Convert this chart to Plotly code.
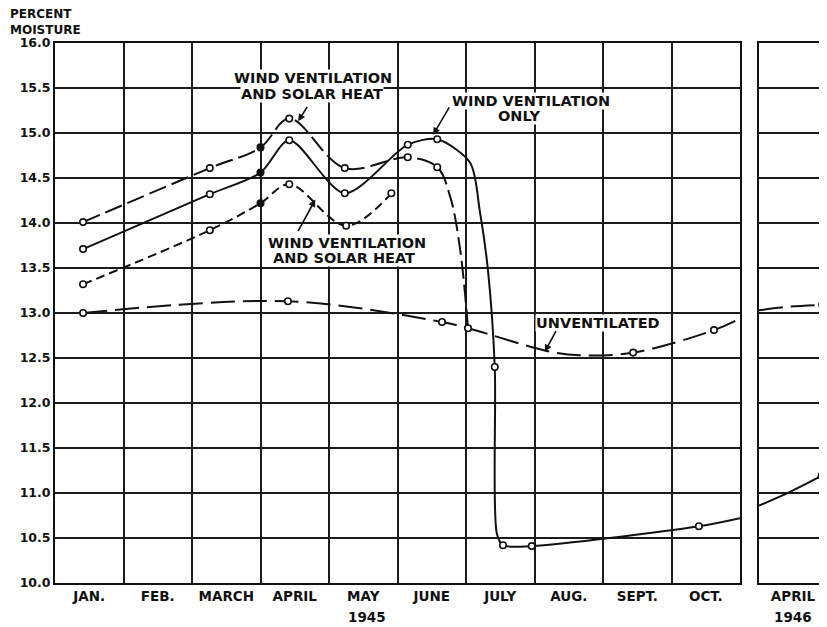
import plotly.graph_objects as go

# ---------------- data (month units: 0 = start of Jan 1945) ----------------
months_1945 = ["JAN.", "FEB.", "MARCH", "APRIL", "MAY", "JUNE", "JULY", "AUG.", "SEPT.", "OCT."]
month_pos = [0.5, 1.5, 2.5, 3.5, 4.5, 5.5, 6.5, 7.5, 8.5, 9.5]
month_bounds = [1, 2, 3, 4, 5, 6, 7, 8, 9]
months_1946 = ["APRIL"]
y_ticks = [10.0, 10.5, 11.0, 11.5, 12.0, 12.5, 13.0, 13.5, 14.0, 14.5, 15.0, 15.5, 16.0]

# Wind ventilation and solar heat (upper, long-dash)
a_pts_x = [0.41, 2.26, 3.0, 3.42, 4.23, 5.15, 5.58, 6.03]
a_pts_y = [14.01, 14.61, 14.84, 15.16, 14.61, 14.73, 14.62, 12.83]
a_path_x = [0.41, 2.26, 3.0, 3.42, 4.23, 5.15, 5.58, 5.77, 5.91, 6.03]
a_path_y = [14.01, 14.61, 14.84, 15.16, 14.61, 14.73, 14.62, 14.29, 13.73, 12.83]

# Wind ventilation only (solid)
b_pts_x = [0.41, 2.26, 3.0, 3.42, 4.23, 5.15, 5.58, 6.42, 6.54, 6.96, 9.40]
b_pts_y = [13.71, 14.32, 14.56, 14.92, 14.33, 14.87, 14.93, 12.40, 10.42, 10.41, 10.63]
b_path_x = [0.41, 2.26, 3.0, 3.42, 4.23, 5.15, 5.58, 6.06, 6.20, 6.32, 6.42, 6.45, 6.54, 6.96, 9.40, 10.0]
b_path_y = [13.71, 14.32, 14.56, 14.92, 14.33, 14.87, 14.93, 14.67, 14.14, 13.48, 12.40, 10.55, 10.42, 10.41, 10.63, 10.72]

# Wind ventilation and solar heat (lower, short-dash)
c_pts_x = [0.41, 2.26, 3.0, 3.42, 4.25, 4.91]
c_pts_y = [13.32, 13.92, 14.22, 14.43, 13.97, 14.33]

# Unventilated (long dash)
d_pts_x = [0.41, 3.40, 5.65, 8.44, 9.62]
d_pts_y = [13.00, 13.13, 12.90, 12.56, 12.81]
d_path_x = [0.41, 3.40, 5.65, 6.03, 7.23, 7.66, 8.44, 9.62, 10.0]
d_path_y = [13.00, 13.13, 12.90, 12.83, 12.57, 12.53, 12.56, 12.81, 12.94]

# 1946 panel (April)
b46_x = [0.0, 0.45, 0.92]
b46_y = [10.86, 11.01, 11.19]
d46_x = [0.0, 0.45, 0.93]
d46_y = [13.03, 13.07, 13.09]

# ---------------- figure ----------------
FONT = "DejaVu Sans"
BLACK = "#111111"
GRID = "#1c1c1c"

fig = go.Figure()

def curve(x, y, dash, xa="x", ya="y", smooth=1.0):
    fig.add_trace(go.Scatter(x=x, y=y, mode="lines", xaxis=xa, yaxis=ya,
                             line=dict(color=BLACK, width=2, dash=dash, shape="spline", smoothing=smooth),
                             hoverinfo="skip", showlegend=False))

def marks(x, y, xa="x", ya="y"):
    fill = [BLACK if abs(v - 3.0) < 1e-9 and xa == "x" else "white" for v in x]
    fig.add_trace(go.Scatter(x=x, y=y, mode="markers", xaxis=xa, yaxis=ya,
                             marker=dict(size=6.5, color=fill, line=dict(color=BLACK, width=1.6)),
                             hoverinfo="skip", showlegend=False))

curve(d_path_x, d_path_y, "24px,8px")
curve(c_pts_x, c_pts_y, "9px,5px")
curve(a_path_x, a_path_y, "18px,6px")
curve(b_path_x, b_path_y, "solid", smooth=0.8)
curve(d46_x, d46_y, "24px,8px", "x2", "y2")
curve(b46_x, b46_y, "solid", "x2", "y2")

marks(d_pts_x, d_pts_y)
marks(c_pts_x, c_pts_y)
marks(a_pts_x, a_pts_y)
marks(b_pts_x, b_pts_y)
marks([d46_x[-1]], [d46_y[-1]], "x2", "y2")
marks([b46_x[-1]], [b46_y[-1]], "x2", "y2")

# page body has an 8px margin: shift everything by -8px
OFF = 8
W, H = 827 - OFF, 627 - OFF
L, R, T = 55 - OFF, 0, 43 - OFF
B = H - (583 - OFF)
pw = W - L - R
ph = H - T - B
d1 = (740 - 55) / pw
d2 = (759 - 55) / pw

tickfont = dict(family=FONT, size=13.5, color=BLACK, weight="bold")

fig.update_layout(
    width=W, height=H,
    margin=dict(l=L, r=R, t=T, b=B),
    paper_bgcolor="white", plot_bgcolor="white",
    font=dict(family=FONT, color=BLACK),
    xaxis=dict(domain=[0, d1], range=[0, 10], tickmode="array", tickvals=month_pos, ticktext=months_1945,
               showgrid=False, zeroline=False, ticks="", tickfont=tickfont,
               showline=True, mirror=True, linecolor=BLACK, linewidth=2,
               minor=dict(tickvals=month_bounds, showgrid=True, gridcolor=GRID, gridwidth=1.6, ticks="")),
    yaxis=dict(range=[10, 16], tickmode="array", tickvals=y_ticks, tickformat=".1f",
               showgrid=True, gridcolor=GRID, gridwidth=1.6, zeroline=False, ticks="",
               tickfont=dict(family=FONT, size=12.5, color=BLACK, weight="bold"),
               showline=True, mirror=True, linecolor=BLACK, linewidth=2),
    xaxis2=dict(domain=[d2, 1], range=[0, 1], tickmode="array", tickvals=[0.5], ticktext=months_1946,
                showgrid=False, zeroline=False, ticks="", tickfont=tickfont, anchor="y2",
                showline=True, mirror=True, linecolor=BLACK, linewidth=2),
    yaxis2=dict(range=[10, 16], anchor="x2", tickmode="array", tickvals=y_ticks, showticklabels=False,
                showgrid=True, gridcolor=GRID, gridwidth=1.6, zeroline=False, ticks="",
                showline=True, mirror=False, linecolor=BLACK, linewidth=2),
)

lab_font = dict(family=FONT, size=14.5, color=BLACK, weight="bold")

def label(text, x, y):
    fig.add_annotation(x=x, y=y, xref="x", yref="y", text=text, showarrow=False,
                       font=lab_font, bgcolor="white", borderpad=0, xanchor="center", yanchor="middle")

def pointer(x, y, ax, ay):
    fig.add_annotation(x=x, y=y, xref="x", yref="y", text="", showarrow=True,
                       ax=ax, ay=ay, arrowhead=2, arrowsize=0.9, arrowwidth=1.6, arrowcolor=BLACK)

label("WIND VENTILATION", 3.77, 15.61)
label("AND SOLAR HEAT", 3.75, 15.43)
label("WIND VENTILATION", 6.95, 15.36)
label("ONLY", 6.77, 15.19)
label("WIND VENTILATION", 4.26, 13.78)
label("AND SOLAR HEAT", 4.22, 13.61)
label("UNVENTILATED", 7.93, 12.89)

pointer(3.55, 15.13, 10, -16)
pointer(5.52, 14.98, 17, -29)
pointer(3.80, 14.26, -18, 33)
pointer(7.15, 12.57, 12, -22)

small = dict(family=FONT, size=13.5, color=BLACK, weight="bold")
yr_y = -(617 - 583) / ph
fig.add_annotation(x=4.55, y=yr_y, xref="x", yref="paper", text="1945",
                   showarrow=False, font=small, xanchor="center", yanchor="middle")
fig.add_annotation(x=0.5, y=yr_y, xref="x2", yref="paper", text="1946",
                   showarrow=False, font=small, xanchor="center", yanchor="middle")
head = dict(family=FONT, size=12, color=BLACK, weight="bold")
fig.add_annotation(x=(8 - 55) / pw, y=1 + (43 - 21.5) / ph, xref="paper", yref="paper",
                   text="PERCENT<br>MOISTURE", align="left",
                   showarrow=False, font=head, xanchor="left", yanchor="middle")

fig.write_html("out.html")
